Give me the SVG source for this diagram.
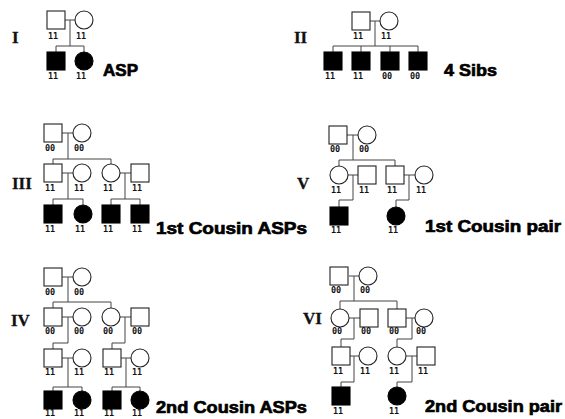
<svg xmlns="http://www.w3.org/2000/svg" width="565" height="419" viewBox="0 0 565 419">
<style>
.m{fill:#fff;stroke:#222;stroke-width:1.1}
.a{fill:#000;stroke:#000;stroke-width:1.1}
.ln{stroke:#444;stroke-width:1;fill:none}
.g{font-family:"DejaVu Sans Mono","Liberation Mono",monospace;font-weight:bold;font-size:8.5px;fill:#111}
.r{font-family:"Liberation Serif","Times New Roman",serif;font-weight:bold;font-size:17px;fill:#111;stroke:#111;stroke-width:0.3}
.t{font-family:"Liberation Sans",Arial,sans-serif;font-weight:bold;font-size:17px;fill:#000;stroke:#000;stroke-width:0.7}
</style>
<rect width="565" height="419" fill="#fff"/>
<g id="connectors">
<path class="ln" d="M65,20H75M70,20V46M56,46H84M56,46V52M84,46V52"/>
<path class="ln" d="M370,21H380M375,21V46M333,46H418M333,46V52M361,46V52M390,46V52M418,46V52"/>
<path class="ln" d="M62,133H73M68,133V159M53,159H111M53,159V164M111,159V164M62,173H73M120,173H131M68,173V199M125,173V199M53,199H83M53,199V205M83,199V205M111,199H140M111,199V205M140,199V205"/>
<path class="ln" d="M347,135H358M353,135V160M339,160H395M339,160V166M395,160V166M348,175H358M353,175V200H339V207M404,175H415M409,175V200H396V207"/>
<path class="ln" d="M62,277H73M68,277V302M53,302H111M53,302V308M111,302V308M62,317H73M120,317H131M68,317V343H53V349M125,317V343H112V349M62,358H73M121,358H131M68,358V387M126,358V387M53,387H82M53,387V391M82,387V391M112,387H140M112,387V391M140,387V391"/>
<path class="ln" d="M349,276H359M354,276V301M340,301H397M340,301V309M397,301V309M349,318H360M354,318V339H341V347M406,318H415M412,318V339H397V347M359,356H350M354,356V382H341V387M406,356H417M412,356V382H397V387"/>
</g>
<g id="ped1">
<rect class="m" x="47" y="11" width="18" height="18"/><circle class="m" cx="84" cy="20" r="9"/>
<rect class="a" x="47" y="52" width="18" height="18"/><circle class="a" cx="84" cy="61" r="9"/>
<text class="g" x="48" y="38.5">11</text><text class="g" x="76" y="38.5">11</text>
<text class="g" x="48" y="79">11</text><text class="g" x="76" y="79">11</text>
<text class="r" x="12" y="43">I</text>
<text class="t" x="103" y="76" textLength="35" lengthAdjust="spacingAndGlyphs">ASP</text>
</g>
<g id="ped2">
<rect class="m" x="352" y="12" width="18" height="18"/><circle class="m" cx="389" cy="21" r="9"/>
<rect class="a" x="324" y="52" width="18" height="18"/><rect class="a" x="352" y="52" width="18" height="18"/>
<rect class="a" x="381" y="52" width="18" height="18"/><rect class="a" x="409" y="52" width="18" height="18"/>
<text class="g" x="353" y="39">11</text><text class="g" x="381" y="39">11</text>
<text class="g" x="325" y="79">11</text><text class="g" x="353" y="79">11</text><text class="g" x="382" y="79">00</text><text class="g" x="410" y="79">00</text>
<text class="r" x="294" y="43">II</text>
<text class="t" x="444" y="76" textLength="53" lengthAdjust="spacingAndGlyphs">4 Sibs</text>
</g>
<g id="ped3">
<rect class="m" x="44" y="124" width="18" height="18"/><circle class="m" cx="82" cy="133" r="9"/>
<rect class="m" x="44" y="164" width="18" height="18"/><circle class="m" cx="82" cy="173" r="9"/>
<circle class="m" cx="111" cy="173" r="9"/><rect class="m" x="131" y="164" width="18" height="18"/>
<rect class="a" x="44" y="205" width="18" height="18"/><circle class="a" cx="83" cy="214" r="9"/>
<rect class="a" x="102" y="205" width="18" height="18"/><rect class="a" x="131" y="205" width="18" height="18"/>
<text class="g" x="45" y="151">00</text><text class="g" x="74" y="151">00</text>
<text class="g" x="45" y="191">11</text><text class="g" x="74" y="191">11</text><text class="g" x="103" y="191">11</text><text class="g" x="132" y="191">11</text>
<text class="g" x="45" y="232">11</text><text class="g" x="75" y="232">11</text><text class="g" x="103" y="232">11</text><text class="g" x="132" y="232">11</text>
<text class="r" x="12" y="189">III</text>
<text class="t" x="156" y="234" textLength="151" lengthAdjust="spacingAndGlyphs">1st Cousin ASPs</text>
</g>
<g id="ped5">
<rect class="m" x="329" y="126" width="18" height="18"/><circle class="m" cx="367" cy="135" r="9"/>
<circle class="m" cx="339" cy="175" r="9"/><rect class="m" x="358" y="166" width="18" height="18"/>
<rect class="m" x="386" y="166" width="18" height="18"/><circle class="m" cx="424" cy="175" r="9"/>
<rect class="a" x="330" y="207" width="18" height="18"/><circle class="a" cx="396" cy="216" r="9"/>
<text class="g" x="330" y="152">00</text><text class="g" x="359" y="152">00</text>
<text class="g" x="331" y="193">11</text><text class="g" x="359" y="193">11</text><text class="g" x="387" y="193">11</text><text class="g" x="416" y="193">11</text>
<text class="g" x="331" y="233">11</text><text class="g" x="388" y="233">11</text>
<text class="r" x="297" y="189">V</text>
<text class="t" x="425" y="232" textLength="136" lengthAdjust="spacingAndGlyphs">1st Cousin pair</text>
</g>
<g id="ped4">
<rect class="m" x="44" y="268" width="18" height="18"/><circle class="m" cx="82" cy="277" r="9"/>
<rect class="m" x="44" y="308" width="18" height="18"/><circle class="m" cx="82" cy="317" r="9"/>
<circle class="m" cx="111" cy="317" r="9"/><rect class="m" x="131" y="308" width="18" height="18"/>
<rect class="m" x="44" y="349" width="18" height="18"/><circle class="m" cx="82" cy="358" r="9"/>
<rect class="m" x="103" y="349" width="18" height="18"/><circle class="m" cx="140" cy="358" r="9"/>
<rect class="a" x="44" y="391" width="18" height="18"/><circle class="a" cx="82" cy="400" r="9"/>
<rect class="a" x="103" y="391" width="18" height="18"/><circle class="a" cx="140" cy="400" r="9"/>
<text class="g" x="45" y="295">00</text><text class="g" x="74" y="295">00</text>
<text class="g" x="45" y="334">00</text><text class="g" x="74" y="334">00</text><text class="g" x="103" y="334">00</text><text class="g" x="132" y="334">00</text>
<text class="g" x="45" y="375">11</text><text class="g" x="74" y="375">11</text><text class="g" x="104" y="375">11</text><text class="g" x="132" y="375">11</text>
<text class="g" x="45" y="416">11</text><text class="g" x="74" y="416">11</text><text class="g" x="104" y="416">11</text><text class="g" x="132" y="416">11</text>
<text class="r" x="11" y="326">IV</text>
<text class="t" x="156" y="413" textLength="151" lengthAdjust="spacingAndGlyphs">2nd Cousin ASPs</text>
</g>
<g id="ped6">
<rect class="m" x="330" y="267" width="18" height="18"/><circle class="m" cx="368" cy="276" r="9"/>
<circle class="m" cx="340" cy="318" r="9"/><rect class="m" x="360" y="309" width="18" height="18"/>
<rect class="m" x="388" y="309" width="18" height="18"/><circle class="m" cx="424" cy="318" r="9"/>
<rect class="m" x="332" y="347" width="18" height="18"/><circle class="m" cx="368" cy="356" r="9"/>
<circle class="m" cx="397" cy="356" r="9"/><rect class="m" x="417" y="347" width="18" height="18"/>
<rect class="a" x="332" y="387" width="18" height="18"/><circle class="a" cx="397" cy="396" r="9"/>
<text class="g" x="331" y="293">00</text><text class="g" x="360" y="293">00</text>
<text class="g" x="332" y="334">00</text><text class="g" x="361" y="334">00</text><text class="g" x="389" y="334">00</text><text class="g" x="416" y="334">00</text>
<text class="g" x="333" y="374">11</text><text class="g" x="360" y="374">11</text><text class="g" x="389" y="374">11</text><text class="g" x="418" y="374">11</text>
<text class="g" x="333" y="414">11</text><text class="g" x="389" y="414">11</text>
<text class="r" x="303" y="324">VI</text>
<text class="t" x="425" y="412" textLength="137" lengthAdjust="spacingAndGlyphs">2nd Cousin pair</text>
</g>
</svg>
